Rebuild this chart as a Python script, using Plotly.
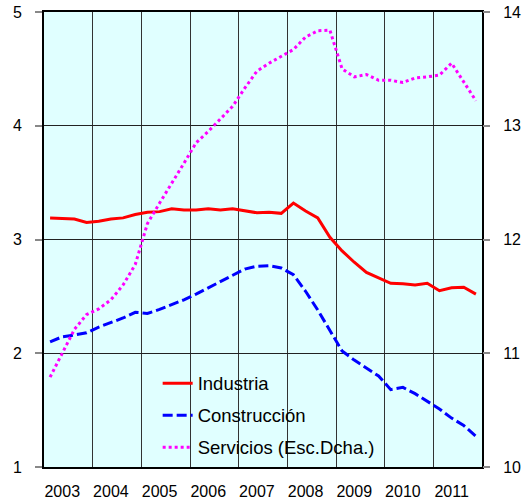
import plotly.graph_objects as go

years = [2003, 2004, 2005, 2006, 2007, 2008, 2009, 2010, 2011]
year_labels = [str(y) for y in years]
quarters = [y + (q - 0.5) / 4 for y in years for q in range(1, 5)]

industria = [3.19, 3.185, 3.18, 3.15,
             3.16, 3.18, 3.19, 3.22,
             3.24, 3.245, 3.27, 3.26,
             3.26, 3.27, 3.26, 3.27,
             3.25, 3.235, 3.24, 3.23,
             3.32, 3.25, 3.19, 3.02,
             2.90, 2.80, 2.71, 2.66,
             2.615, 2.61, 2.60, 2.615,
             2.55, 2.576, 2.58, 2.52]

construccion = [2.10, 2.145, 2.16, 2.18,
                2.23, 2.27, 2.31, 2.36,
                2.35, 2.385, 2.425, 2.47,
                2.52, 2.575, 2.63, 2.69,
                2.74, 2.765, 2.77, 2.75,
                2.69, 2.545, 2.38, 2.20,
                2.02, 1.94, 1.87, 1.80,
                1.68, 1.70, 1.645, 1.58,
                1.51, 1.43, 1.365, 1.27]

servicios = [10.79, 11.0, 11.21, 11.34,
             11.39, 11.47, 11.60, 11.78,
             12.14, 12.32, 12.49, 12.67,
             12.85, 12.95, 13.06, 13.17,
             13.33, 13.48, 13.55, 13.61,
             13.67, 13.78, 13.835, 13.84,
             13.50, 13.43, 13.45, 13.40,
             13.40, 13.38, 13.42, 13.43,
             13.445, 13.55, 13.38, 13.22]

font = "Liberation Sans"

fig = go.Figure()
fig.add_trace(go.Scatter(x=quarters, y=industria, name="Industria", mode="lines",
                         line=dict(color="#FF0000", width=3), legendgroup="a"))
fig.add_trace(go.Scatter(x=quarters, y=construccion, name="Construcción", mode="lines",
                         line=dict(color="#0000FF", width=3, dash="10px,4px"), legendgroup="b"))
fig.add_trace(go.Scatter(x=quarters, y=servicios, name="Servicios (Esc.Dcha.)", mode="lines",
                         line=dict(color="#FF00FF", width=3, dash="3px,3px"), legendgroup="c",
                         yaxis="y2"))

fig.update_layout(
    width=527, height=503,
    autosize=False,
    margin=dict(l=44, r=45, t=12, b=36, pad=0),
    paper_bgcolor="white",
    plot_bgcolor="#E0FFFF",
    font=dict(family=font, size=16, color="black"),
    showlegend=True,
    legend=dict(x=0.2595, y=0.225, xanchor="left", yanchor="top",
                bgcolor="rgba(0,0,0,0)", font=dict(family=font, size=18.5),
                tracegroupgap=5),
    xaxis=dict(
        range=[2003, 2012],
        tickmode="array",
        tickvals=[y + 0.375 for y in years],
        ticktext=year_labels,
        ticks="", showgrid=False, zeroline=False,
        showline=True, linecolor="black", linewidth=2, mirror=True,
        ticklabelstandoff=9, automargin=False,
        minor=dict(tickmode="array", tickvals=years[1:],
                   showgrid=True, gridcolor="#333333", gridwidth=1, ticks=""),
    ),
    yaxis=dict(
        range=[1, 5], tickvals=[1, 2, 3, 4, 5],
        ticks="outside", ticklen=7, tickcolor="#888888", tickwidth=2,
        showgrid=True, gridcolor="#222222", gridwidth=1, zeroline=False,
        showline=True, linecolor="black", linewidth=2, mirror=True,
        ticklabelstandoff=10, automargin=False,
    ),
    yaxis2=dict(
        range=[10, 14], tickvals=[10, 11, 12, 13, 14],
        overlaying="y", side="right",
        ticks="outside", ticklen=7, tickcolor="#888888", tickwidth=2,
        showgrid=False, zeroline=False, showline=False,
        ticklabelstandoff=10, automargin=False,
    ),
)

fig.write_html("out.html",
               config={"displayModeBar": False},
               post_script="document.body.style.margin='0';document.body.style.overflow='hidden';")
